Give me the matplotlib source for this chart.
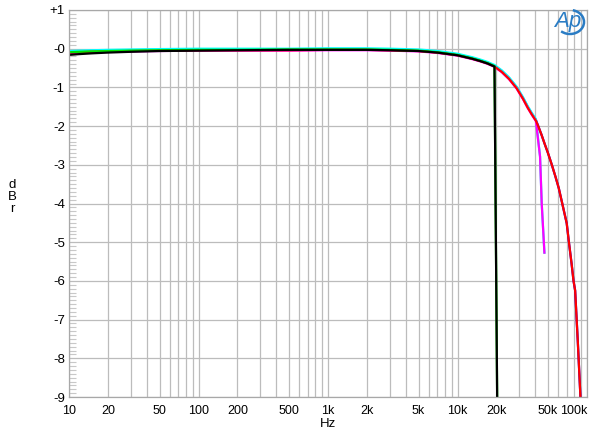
import numpy as np
import matplotlib.pyplot as plt
from matplotlib.patches import Arc
from matplotlib.ticker import FixedLocator

plt.rcParams['font.family'] = ['Liberation Sans', 'DejaVu Sans']

# passband, common to all traces (Hz, dBr)
base_f = [10, 12, 15, 20, 30, 50, 100, 200, 500, 1000, 2000, 3000, 5000, 7000, 10000, 13000, 15000, 17000, 19300]
black_db = [-0.16, -0.14, -0.12, -0.10, -0.08, -0.06, -0.05, -0.04, -0.03, -0.03, -0.03, -0.04, -0.06, -0.10, -0.17, -0.26, -0.32, -0.38, -0.46]
green_db = [-0.09, -0.08, -0.07, -0.06, -0.05, -0.04, -0.03, -0.03, -0.02, -0.02, -0.02, -0.03, -0.05, -0.09, -0.16, -0.25, -0.31, -0.37, -0.45]
wide_db = [-0.08, -0.07, -0.06, -0.05, -0.04, -0.03, -0.02, -0.02, -0.02, -0.01, -0.01, -0.02, -0.04, -0.08, -0.15, -0.24, -0.30, -0.36, -0.44]

# 44.1k / 48k brick wall
cut20_f = [20300, 20400]
cut20_db = [-9.5, -12]

# shared rolloff above 20k
roll_f = [20000, 22000, 25000, 28600, 32000, 34800, 37500, 40300]
roll_db = [-0.47, -0.58, -0.76, -1.0, -1.27, -1.5, -1.68, -1.84]

# 88.2k / 96k
cut40_f = [43400, 44700, 46900]
cut40_db = [-2.79, -4.0, -5.27]

# 176.4k / 192k
tail_f = [42000, 44500, 47000, 50000, 53500, 57000, 60500, 64400, 69700, 72500, 76000, 78700, 81000, 85000, 89000]
tail_db = [-2.0, -2.22, -2.45, -2.7, -3.0, -3.3, -3.6, -4.0, -4.51, -5.0, -5.55, -6.0, -6.25, -7.6, -9.0]

fig = plt.figure(figsize=(6, 4.41), dpi=100)
ax = fig.add_axes([69/600, 1-397/441, (587-69)/600, (397-10)/441])

wide_f = base_f + roll_f[1:]
ax.plot(wide_f + tail_f, wide_db + roll_db[1:] + tail_db, color='#0000ff', lw=1.6)
ax.plot(wide_f + cut40_f, [v + 0.02 for v in wide_db + roll_db[1:]] + cut40_db, color='#00ffff', lw=1.6)
ax.plot(wide_f + cut40_f, [v - 0.03 for v in wide_db + roll_db[1:]] + cut40_db, color='#ff00ff', lw=1.6)
ax.plot(wide_f + tail_f, [v - 0.02 for v in wide_db + roll_db[1:]] + tail_db, color='#ff0000', lw=1.6)
ax.plot(base_f + cut20_f, green_db + cut20_db, color='#00e000', lw=1.6)
ax.plot(base_f + cut20_f, black_db + cut20_db, color='black', lw=1.6)

ax.set_xscale('log')
ax.set_xlim(10, 100000)
ax.set_ylim(-9, 1)

grid_x = [m * 10**e for e in range(1, 5) for m in range(1, 10)] + [100000]
ax.xaxis.set_major_locator(FixedLocator(grid_x))
ax.xaxis.set_minor_locator(FixedLocator([]))
xt = [10, 20, 50, 100, 200, 500, 1000, 2000, 5000, 10000, 20000, 50000]
xl = ['10', '20', '50', '100', '200', '500', '1k', '2k', '5k', '10k', '20k', '50k']
ax.set_xticklabels([])
ax.tick_params(axis='x', length=0)
for v, s in zip(xt, xl):
    ax.text(v, -0.021, s, transform=ax.get_xaxis_transform(), ha='center', va='top', fontsize=9)
ax.text(1.0, -0.021, '100k', transform=ax.transAxes, ha='right', va='top', fontsize=9)

yt = list(range(-9, 2))
ax.set_yticks(yt)
ax.set_yticklabels(['+1' if v == 1 else ('-0' if v == 0 else str(v)) for v in yt], fontsize=9.5)
ax.yaxis.set_minor_locator(FixedLocator(np.arange(-9, 1.01, 0.1)))
ax.tick_params(axis='y', which='major', length=0, pad=3)
ax.tick_params(axis='y', which='minor', direction='in', length=5, color='#c8c8c8', width=0.8)

ax.grid(True, which='major', color='#bcbcbc', lw=0.9)
ax.set_axisbelow(True)
for s in ax.spines.values():
    s.set_color('#a8a8a8')
    s.set_linewidth(0.9)

fig.text(328/600, 1-424/441, 'Hz', ha='center', va='center', fontsize=9.5)
fig.text(12/600, 1-197/441, 'd\nB\nr', ha='center', va='center', fontsize=9.5, linespacing=0.95)

# Ap logo
logo = '#2a7cc4'
fig.text(568/600, 1-22/441, 'Ap', ha='center', va='center', fontsize=16, style='italic',
         color=logo)
fig.patches.append(Arc((570/600, 1-22/441), 28/600, 24/441, theta1=-125, theta2=80,
                       transform=fig.transFigure, color=logo, lw=1.8))

fig.savefig('out.png', dpi=100)
